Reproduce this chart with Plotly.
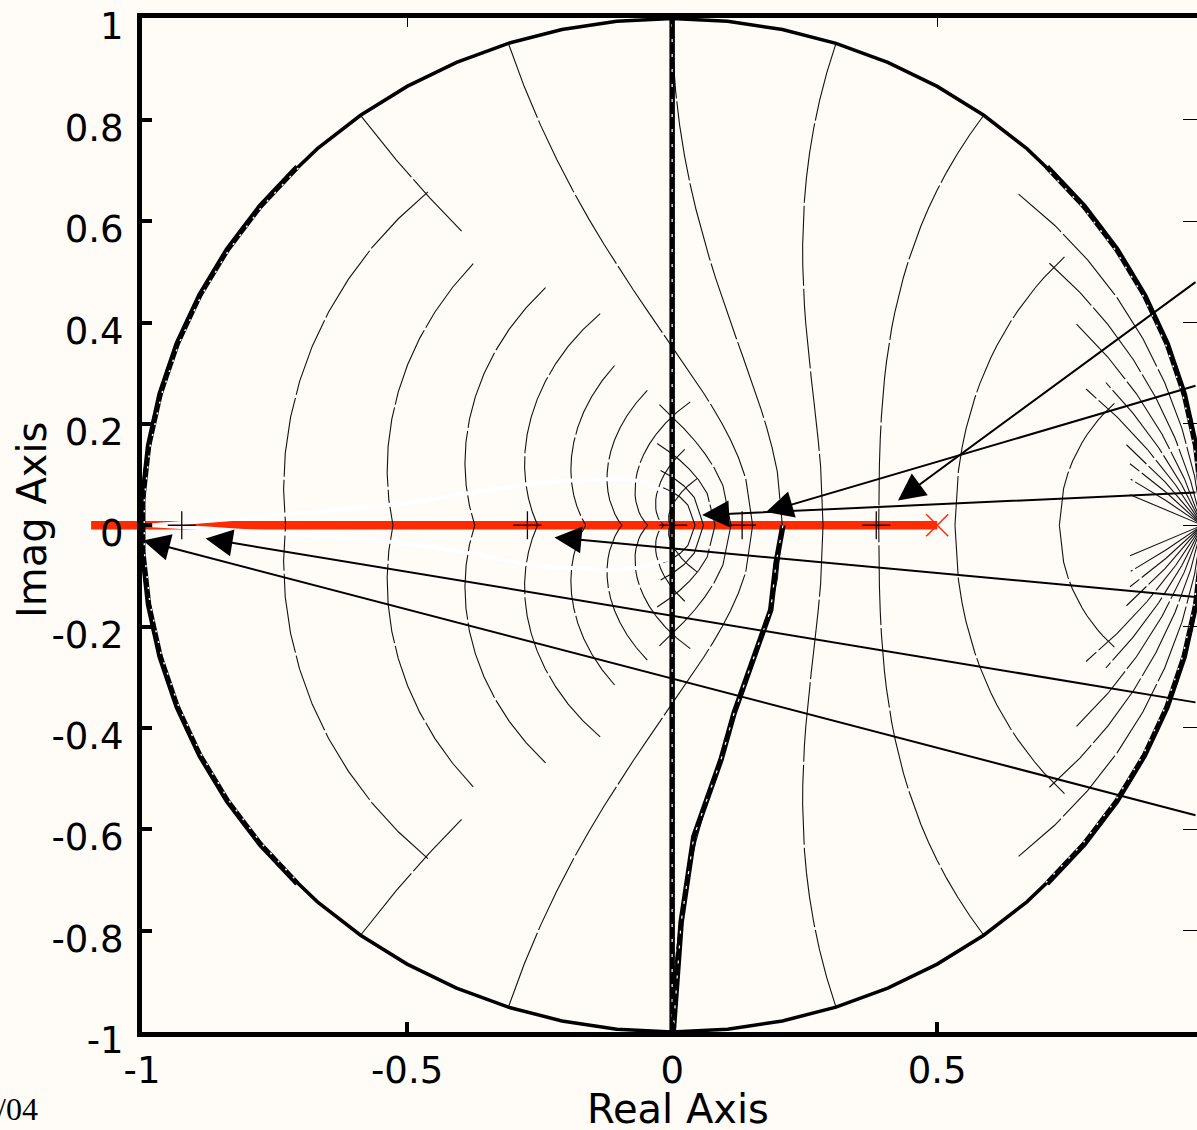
import numpy as np
import plotly.graph_objects as go

# ---------------- data ----------------
# z-plane grid: constant-damping spirals (visible angular ranges, degrees)
zeta_vals = [0.1, 0.2, 0.3, 0.4, 0.5, 0.6, 0.7, 0.8, 0.9]
zeta_right_end_deg = [45, 36, 27.5, 19, 19, 10.5, 8, 6, 4]
zeta_left_start_deg = [125, 126, 117, 108, 109, 100, 82, 81, 63]

# constant natural-frequency curves (fraction of pi/T) and visible zeta ranges
wn_fracs = [0.1, 0.2, 0.3, 0.4, 0.5, 0.6, 0.7, 0.7, 0.8, 0.9, 1.0]
wn_zeta_from = [0.45, 0.15, 0.0, 0.0, 0.0, 0.0, 0.0, 0.65, 0.72, 0.78, 0.82]
wn_zeta_to = [1.0, 1.0, 1.0, 1.0, 1.0, 1.0, 0.16, 1.0, 1.0, 1.0, 1.0]

# thick root-locus branch (lower half)
locus_x = [0.209, 0.196, 0.186, 0.117, 0.092, 0.041, 0.017, 0.002]
locus_y = [0.0, -0.075, -0.167, -0.370, -0.463, -0.614, -0.783, -1.0]

# vertical thick branch on the imaginary axis
vert_x = [0.0, 0.0]
vert_y = [-1.0, 1.0]

# white (hidden) branch
white_x = [-0.98, -0.51, -0.384, -0.26, -0.185, -0.12, -0.072, -0.034, 0.004]
white_upper = [0.0, 0.043, 0.063, 0.083, 0.089, 0.091, 0.089, 0.075, 0.059]
white_lower = [0.0, -0.035, -0.055, -0.079, -0.085, -0.089, -0.085, -0.075, -0.063]

# red real-axis segment and open-loop pole
red_x = [-1.096, 0.5]
red_y = [0.0, 0.0]
pole_x = [0.5]
pole_y = [0.0]

# small "+" marks on the real axis
plus_x = [-0.925, -0.273, 0.002, 0.132, 0.385]
plus_y = [0.0, 0.0, 0.0, 0.0, 0.0]

# arrows (head -> tail)
arrow_head_x = [0.426, 0.177, 0.0565, -0.222, -0.88, -0.998]
arrow_head_y = [0.049, 0.026, 0.020, -0.024, -0.026, -0.030]
arrow_tail_x = [0.99, 0.99, 0.99, 0.99, 0.99, 0.99]
arrow_tail_y = [0.482, 0.276, 0.065, -0.142, -0.350, -0.573]

# unit-circle thick parts (degrees)
thick_arcs_deg = [(135, 225), (-45, 45)]

# ticks
x_tick_vals = [-1, -0.5, 0, 0.5]
x_tick_text = ["-1", "-0.5", "0", "0.5"]
y_tick_vals = [1, 0.8, 0.6, 0.4, 0.2, 0, -0.2, -0.4, -0.6, -0.8, -1]
y_tick_text = ["1", "0.8", "0.6", "0.4", "0.2", "0", "-0.2", "-0.4", "-0.6", "-0.8", "-1"]

X_RANGE = [-1.0, 0.99]
Y_RANGE = [-1.0, 1.001]

BG = "#fffcf8"
RED = "#ff2a00"
FONT = "DejaVu Sans"

# ---------------- geometry helpers ----------------
def spiral(z, d0, d1):
    n = max(2, int(abs(d1 - d0) / 6) + 2)
    th = np.radians(np.linspace(d0, d1, n))
    wnT = th / np.sqrt(1 - z * z)
    r = np.exp(-z * wnT)
    return r * np.cos(th), r * np.sin(th)


def wn_curve(frac, z0, z1):
    n = max(2, int(round((z1 - z0) / 0.05)) + 1)
    z = np.linspace(z0, z1, n)
    wnT = frac * np.pi
    th = wnT * np.sqrt(np.clip(1 - z * z, 0, None))
    r = np.exp(-z * wnT)
    return r * np.cos(th), r * np.sin(th)


gx, gy = [], []

def add_sym(xs, ys):
    for sgn in (1, -1):
        gx.extend(list(xs) + [None])
        gy.extend(list(sgn * np.asarray(ys)) + [None])


for z, re_d, ls_d in zip(zeta_vals, zeta_right_end_deg, zeta_left_start_deg):
    add_sym(*spiral(z, 0, re_d))
    add_sym(*spiral(z, ls_d, 180))

for f, z0, z1 in zip(wn_fracs, wn_zeta_from, wn_zeta_to):
    add_sym(*wn_curve(f, z0, z1))

fig = go.Figure()

# red segment (drawn as a shape so it can pass the left axis, like the original)
def xp(v):
    return (v - X_RANGE[0]) / (X_RANGE[1] - X_RANGE[0])

def yp(v):
    return (v - Y_RANGE[0]) / (Y_RANGE[1] - Y_RANGE[0])

fig.add_shape(type="line", xref="paper", yref="paper",
              x0=xp(red_x[0]), x1=xp(red_x[1]), y0=yp(red_y[0]), y1=yp(red_y[1]),
              line=dict(color=RED, width=8.5), layer="below")

# grid
fig.add_trace(go.Scatter(x=gx, y=gy, mode="lines",
                         line=dict(color="#111111", width=1.1, dash="80px,3px"),
                         hoverinfo="skip"))

# white branch
for wy in (white_upper, white_lower):
    fig.add_trace(go.Scatter(x=white_x, y=wy, mode="lines",
                             line=dict(color="white", width=4, shape="spline"),
                             hoverinfo="skip"))

# unit circle
th = np.radians(np.arange(0, 361, 6))
fig.add_trace(go.Scatter(x=np.cos(th), y=np.sin(th), mode="lines",
                         line=dict(color="black", width=3.5), hoverinfo="skip"))
for a0, a1 in thick_arcs_deg:
    t = np.radians(np.arange(a0, a1 + 1, 6))
    fig.add_trace(go.Scatter(x=np.cos(t), y=np.sin(t), mode="lines",
                             line=dict(color="black", width=5.5), hoverinfo="skip"))
    fig.add_trace(go.Scatter(x=0.997 * np.cos(t), y=0.997 * np.sin(t), mode="lines",
                             line=dict(color="white", width=1.5, dash="2px,9px"),
                             hoverinfo="skip"))

# thick branches
for bx, by in ((vert_x, vert_y), (locus_x, locus_y)):
    fig.add_trace(go.Scatter(x=bx, y=by, mode="lines",
                             line=dict(color="black", width=5.5), hoverinfo="skip"))
    fig.add_trace(go.Scatter(x=bx, y=by, mode="lines",
                             line=dict(color="white", width=1.2, dash="3px,12px"),
                             hoverinfo="skip"))

# markers
fig.add_trace(go.Scatter(x=plus_x, y=plus_y, mode="markers",
                         marker=dict(symbol="cross-thin", size=20,
                                     line=dict(color="#200000", width=1.3)),
                         hoverinfo="skip"))
fig.add_trace(go.Scatter(x=pole_x, y=pole_y, mode="markers",
                         marker=dict(symbol="x-thin", size=22,
                                     line=dict(color=RED, width=1.5)),
                         hoverinfo="skip"))

# helper trace for the mirrored tick axes
fig.add_trace(go.Scatter(x=[None], y=[None], xaxis="x2", yaxis="y2",
                         showlegend=False, hoverinfo="skip"))

# arrows
for hx, hy, tx, ty in zip(arrow_head_x, arrow_head_y, arrow_tail_x, arrow_tail_y):
    fig.add_annotation(x=hx, y=hy, ax=tx, ay=ty, xref="x", yref="y",
                       axref="x", ayref="y", text="", showarrow=True,
                       arrowhead=2, arrowsize=2.7, arrowwidth=2,
                       arrowcolor="black", standoff=0)

# axis titles and corner text
PLOT_L, PLOT_W, PLOT_B, PLOT_H = 142, 1055, 1032, 1014
fig.add_annotation(text="Real Axis", xref="paper", yref="paper",
                   x=(678 - PLOT_L) / PLOT_W, y=(PLOT_B - 1109) / PLOT_H,
                   showarrow=False, xanchor="center", yanchor="middle",
                   font=dict(family=FONT, size=40, color="black"))
fig.add_annotation(text="Imag Axis", xref="paper", yref="paper",
                   x=(32 - PLOT_L) / PLOT_W, y=(PLOT_B - 520) / PLOT_H,
                   showarrow=False, xanchor="center", yanchor="middle", textangle=-90,
                   font=dict(family=FONT, size=40, color="black"))
fig.add_annotation(text="/04", xref="paper", yref="paper",
                   x=(-5 - PLOT_L) / PLOT_W, y=(PLOT_B - 1109) / PLOT_H,
                   showarrow=False, xanchor="left", yanchor="middle",
                   font=dict(family="Liberation Serif", size=32, color="black"))

axis_common = dict(showgrid=False, zeroline=False, tickcolor="black")
fig.update_layout(
    width=1197, height=1130,
    margin=dict(l=PLOT_L, r=0, t=18, b=98),
    paper_bgcolor=BG, plot_bgcolor=BG,
    showlegend=False,
    xaxis=dict(range=X_RANGE, showline=True, linecolor="black", linewidth=5,
               mirror=True, ticks="inside", ticklen=10, tickwidth=4,
               tickvals=x_tick_vals, ticktext=x_tick_text,
               tickfont=dict(family=FONT, size=37, color="black"),
               ticklabelstandoff=2, **axis_common),
    yaxis=dict(range=Y_RANGE, showline=True, linecolor="black", linewidth=5,
               mirror=False, ticks="inside", ticklen=10, tickwidth=4,
               tickvals=y_tick_vals, ticktext=y_tick_text,
               tickfont=dict(family=FONT, size=37, color="black"),
               ticklabelshift=8, ticklabelstandoff=6, **axis_common),
    xaxis2=dict(range=X_RANGE, overlaying="x", side="top", anchor="y2",
                ticks="inside", ticklen=9, tickwidth=1, tickvals=x_tick_vals,
                showticklabels=False, showline=False, **axis_common),
    yaxis2=dict(range=Y_RANGE, overlaying="y", side="right", anchor="x2",
                ticks="inside", ticklen=14, tickwidth=1, tickvals=y_tick_vals,
                showticklabels=False, showline=False, **axis_common),
)

fig.write_html("out.html")
